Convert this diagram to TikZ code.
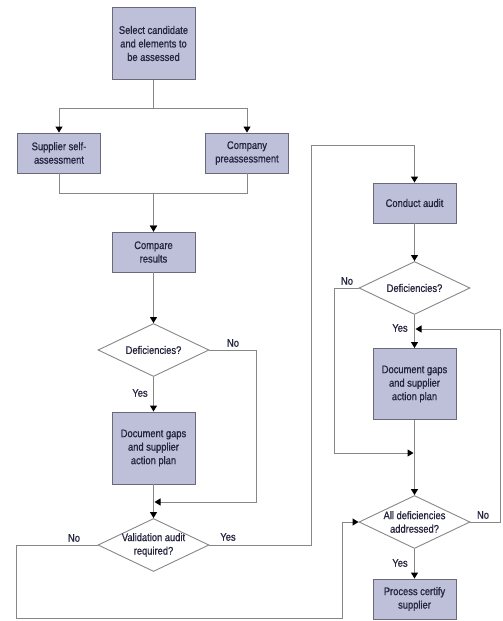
\documentclass[tikz,border=0pt]{standalone}
\usepackage{fontspec}
\newfontfamily\chartfont{Liberation Sans}[FakeStretch=0.85,FakeBold=0.8]
\usetikzlibrary{shapes.geometric,arrows.meta}
\definecolor{boxfill}{RGB}{190,192,218}
\definecolor{boxline}{RGB}{105,105,122}
\definecolor{flowline}{RGB}{135,135,135}
\definecolor{chartink}{RGB}{36,36,62}
\begin{document}
\begin{tikzpicture}[x=1pt,y=-1pt]
\useasboundingbox (0,0) rectangle (503,621);
\tikzstyle{every node}=[font=\chartfont\fontsize{11}{13.5}\selectfont,text=chartink,align=center];
\tikzstyle{stepbox}=[draw=boxline,fill=boxfill,line width=0.9pt,minimum width=83pt,inner sep=1pt];
\tikzstyle{ask}=[draw=flowline,fill=white,line width=0.9pt,diamond,aspect=2.1,minimum width=111pt,minimum height=53pt,inner sep=-1pt];
\tikzstyle{flow}=[draw=flowline,line width=1pt];
\tikzstyle{arr}=[flow,-{Triangle[color=black,width=7pt,length=6pt]}];
\node (sel)[stepbox,minimum height=72pt] at (153.5,43.5) {Select candidate\\and elements to\\be assessed};
\node (sup)[stepbox,minimum height=40pt] at (59,153) {Supplier self-\\assessment};
\node (com)[stepbox,minimum height=40pt] at (247,153) {Company\\preassessment};
\node (cmp)[stepbox,minimum height=40pt] at (153.5,252) {Compare\\results};
\node (def1)[ask] at (153.5,350) {Deficiencies?};
\node (doc1)[stepbox,minimum height=72pt] at (153.5,448) {Document gaps\\and supplier\\action plan};
\node (val)[ask] at (153.5,545) {Validation audit\\required?};
\node (aud)[stepbox,minimum height=40pt] at (414.5,203) {Conduct audit};
\node (def2)[ask] at (414.5,288) {Deficiencies?};
\node (doc2)[stepbox,minimum height=71pt] at (414.5,384) {Document gaps\\and supplier\\action plan};
\node (all)[ask] at (414.5,522) {All deficiencies\\addressed?};
\node (cert)[stepbox,minimum height=40pt] at (414.5,599) {Process certify\\supplier};
\coordinate (j1) at (154.5,502);
\coordinate (j2) at (413.5,453);
\coordinate (j3) at (415.5,329);
% left column
\draw[arr] (sel.south) -- ++(0,29) -| (sup.north);
\draw[arr] (sel.south) -- ++(0,29) -| (com.north);
\draw[arr] (sup.south) -- ++(0,20) -| (cmp.north);
\draw[arr] (com.south) -- ++(0,20) -| (cmp.north);
\draw[arr] (cmp) -- (def1);
\draw[arr] (def1) -- (doc1);
\draw[arr] (def1.east) -- ++(47,0) |- (j1);
\draw[arr] (doc1) -- (val);
\draw[arr] (val.west) -- ++(-81,0) -- ++(0,73) -| ([xshift=-16pt]all.west) -- (all.west);
\draw[arr] (val.east) -- ++(102,0) |- ([yshift=37pt]aud.north) -- (aud.north);
% right column
\draw[arr] (aud) -- (def2);
\draw[arr] (def2) -- (doc2);
\draw[arr] (def2.west) -- ++(-24,0) |- (j2);
\draw[arr] (doc2) -- (all);
\draw[arr] (all.east) -- ++(30,0) |- (j3);
\draw[arr] (all) -- (cert);
\node (n1) at (233,343) {No};
\node (y1) at (140,393) {Yes};
\node (n2) at (74,538) {No};
\node (y2) at (228,537) {Yes};
\node (n3) at (347,281) {No};
\node (y3) at (400,328) {Yes};
\node (n4) at (483,515) {No};
\node (y4) at (400,563) {Yes};
\end{tikzpicture}
\end{document}
